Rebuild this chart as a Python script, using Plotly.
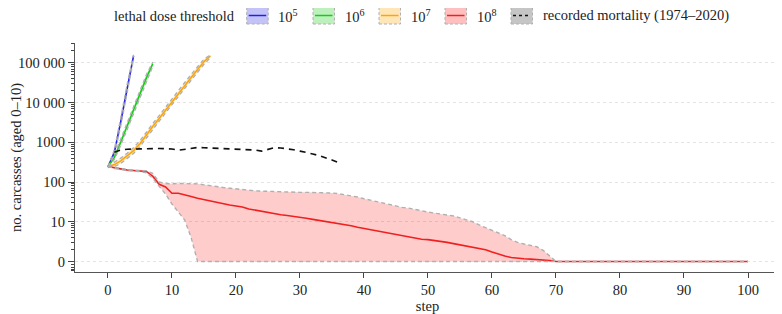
import numpy as np
import plotly.graph_objects as go

# ---------------- data ----------------
blue_steps = [0, 1, 2, 3, 4]
blue = [240, 560, 3300, 23000, 150000]
blue_lo = [235, 480, 2600, 18000, 125000]
blue_hi = [245, 650, 4100, 29000, 160000]

green_steps = [0, 1, 2, 3, 4, 5, 6, 7]
green = [240, 420, 1020, 2600, 6600, 16600, 42000, 95000]
green_lo = [235, 370, 850, 2150, 5500, 14000, 35000, 82000]
green_hi = [245, 470, 1200, 3100, 7900, 19800, 50000, 105000]

orange_steps = list(range(0, 17))
orange = [240, 275, 340, 450, 620, 920, 1550, 2500, 4000, 6500, 10700, 17000,
          27000, 43000, 68000, 107000, 150000]
orange_lo = [232, 245, 295, 385, 525, 780, 1300, 2100, 3400, 5500, 9000, 14500,
             23000, 36500, 58000, 92000, 135000]
orange_hi = [248, 310, 400, 530, 730, 1090, 1830, 2950, 4700, 7700, 12600, 20000,
             32000, 51000, 80000, 124000, 160000]

red_steps = list(range(0, 101))
red = [245, 225, 214, 200, 194, 192, 185, 140, 88, 75, 52, 52, 48, 43, 39, 36, 33, 30,
       28, 26.5, 25, 23.5, 21, 19.5, 18, 17, 16, 15, 14.3, 13.7, 13, 12.2, 11.5, 10.8,
       10.2, 9.8, 9.6, 9.4, 9.0, 8.6, 8.3, 8.0, 7.8, 7.5, 7.2, 6.9, 6.6, 6.2, 5.9, 5.6,
       5.5, 5.3, 5.1, 4.8, 4.5, 4.2, 3.9, 3.6, 3.3, 2.95, 2.4, 1.8, 1.4, 1.0, 0.8, 0.7,
       0.6, 0.5, 0.4, 0.25, 0] + [0] * 30
red_hi = [245, 230, 220, 207, 200, 197, 192, 165, 100, 92, 90, 92, 92, 91, 90, 85, 80,
          76, 73, 70, 67, 64, 62, 60, 59, 58, 57, 57, 56, 56, 55, 55, 55, 54, 54, 53, 51,
          48, 46, 42, 38, 35, 32, 29, 27, 25, 23, 22, 20.7, 19, 17.5, 16.5, 15.5, 15, 14,
          12.5, 11, 10, 9.2, 8.5, 7.8, 7.2, 6.5, 5.5, 4.8, 4.4, 4.0, 3.7, 2.8, 1.5,
          0] + [0] * 30
red_lo = [245, 220, 208, 193, 188, 184, 170, 125, 78, 50, 28, 17, 11, 6, 0] + [0] * 86

mort_steps = list(range(1, 37))
mortality = [560, 640, 670, 680, 690, 700, 710, 700, 690, 680, 630, 660, 700, 740,
             730, 720, 710, 700, 690, 680, 670, 660, 640, 600, 660, 730, 720, 690,
             650, 600, 560, 510, 460, 410, 360, 310]

y_tick_vals = [0, 10, 100, 1000, 10000, 100000]
y_tick_text = ["0", "10", "100", "1000", "10 000", "100 000"]
x_tick_vals = [0, 10, 20, 30, 40, 50, 60, 70, 80, 90, 100]


# symmetric-log style transform: linear below 10, log10 above
def T(v):
    v = np.asarray(v, dtype=float)
    return np.where(v < 10, v / 10.0, np.log10(np.maximum(v, 10)))


FONT = "Liberation Serif, Times New Roman, serif"
FS = 14.5
EDGE = dict(color="#b0b0b0", width=1.4, dash="4px,3px")

fig = go.Figure()

series = [
    (blue_steps, blue, blue_lo, blue_hi, "#2020ee", "rgba(40,40,230,0.22)"),
    (green_steps, green, green_lo, green_hi, "#10d010", "rgba(20,200,20,0.22)"),
    (orange_steps, orange, orange_lo, orange_hi, "#ffa500", "rgba(255,165,0,0.22)"),
    (red_steps, red, red_lo, red_hi, "#f02020", "rgba(255,0,0,0.2)"),
]

for xs, ys, lo, hi, col, fcol in series:
    fig.add_trace(go.Scatter(x=xs, y=T(lo), mode="lines", line=dict(width=0),
                             showlegend=False, hoverinfo="skip"))
    fig.add_trace(go.Scatter(x=xs, y=T(hi), mode="lines", line=dict(width=0),
                             fill="tonexty", fillcolor=fcol, showlegend=False,
                             hoverinfo="skip"))

for xs, ys, lo, hi, col, fcol in series:
    fig.add_trace(go.Scatter(x=xs, y=T(ys), mode="lines", line=dict(color=col, width=1.6),
                             showlegend=False))
    fig.add_trace(go.Scatter(x=xs, y=T(lo), mode="lines", line=EDGE, showlegend=False,
                             hoverinfo="skip"))
    fig.add_trace(go.Scatter(x=xs, y=T(hi), mode="lines", line=EDGE, showlegend=False,
                             hoverinfo="skip"))

fig.add_trace(go.Scatter(x=mort_steps, y=T(mortality), mode="lines",
                         line=dict(color="#111111", width=1.6, dash="6px,5px"),
                         showlegend=False))

# ---------------- layout ----------------
# page has an 8px body margin; figure sized so that it fits the 782x314 window
OFF = 8
W, H = 782 - OFF, 314 - OFF
PL, PR, PT, PB = 75, 780, 43, 272  # plot area in page pixels
L, T_, R, B = PL - OFF, PT - OFF, W - (PR - OFF), H - (PB - OFF)


def px(x):
    return (x - PL) / (PR - PL)


def py(y):
    return (PB - y) / (PB - PT)


minor_vals = []
for k in range(2, 10):
    minor_vals.append(np.log10(k))
for d in range(1, 6):
    for k in range(2, 10):
        v = d + np.log10(k)
        if v < 5.5:
            minor_vals.append(v)
minor_vals += [-0.08, -0.14, -0.19, -0.23]

fig.update_layout(
    width=W, height=H,
    margin=dict(l=L, r=R, t=T_, b=B, autoexpand=False),
    paper_bgcolor="white", plot_bgcolor="white",
    font=dict(family=FONT, size=FS, color="#222"),
    showlegend=False,
    xaxis=dict(range=[-5.15, 105], tickvals=x_tick_vals, ticks="outside", ticklen=5,
               tickcolor="#444", showline=True, linecolor="#555", linewidth=1,
               showgrid=False, zeroline=False,
               title=dict(text="step", standoff=0, font=dict(family=FONT, size=FS)),
               tickfont=dict(family=FONT, size=FS)),
    yaxis=dict(range=[-0.265, 5.5], tickvals=list(T(y_tick_vals)), ticktext=y_tick_text,
               ticks="outside", ticklen=6, tickcolor="#444", showline=True,
               linecolor="#555", linewidth=1, showgrid=True, gridcolor="#e4e4e4",
               griddash="dot", gridwidth=1, zeroline=False,
               title=dict(text="no. carcasses (aged 0–10)", standoff=4,
                          font=dict(family=FONT, size=FS)),
               minor=dict(tickvals=minor_vals, ticks="outside", ticklen=3,
                          tickcolor="#444", showgrid=False),
               tickfont=dict(family=FONT, size=FS)),
)

# ---------------- manual legend ----------------
leg_y0, leg_y1 = 7, 24
leg_mid = (leg_y0 + leg_y1) / 2
fig.add_annotation(x=px(237), y=py(leg_mid), xref="paper", yref="paper",
                   text="lethal dose threshold", showarrow=False, xanchor="right",
                   yanchor="middle", font=dict(family=FONT, size=FS))

legend_items = [
    (246.7, "rgba(40,40,230,0.28)", "#2020ee", "solid", "10<sup>5</sup>"),
    (313, "rgba(20,200,20,0.28)", "#10d010", "solid", "10<sup>6</sup>"),
    (379, "rgba(255,165,0,0.28)", "#ffa500", "solid", "10<sup>7</sup>"),
    (445, "rgba(255,0,0,0.25)", "#f02020", "solid", "10<sup>8</sup>"),
    (511, "rgba(150,150,150,0.55)", "#111111", "3px,3px", "recorded mortality (1974–2020)"),
]
bw = 21.5
for x0, fcol, lcol, ldash, label in legend_items:
    fig.add_shape(type="rect", xref="paper", yref="paper",
                  x0=px(x0), x1=px(x0 + bw), y0=py(leg_y1), y1=py(leg_y0),
                  fillcolor=fcol, line=dict(color="#b0b0b0", width=1, dash="3px,2px"))
    fig.add_shape(type="line", xref="paper", yref="paper",
                  x0=px(x0 + 2), x1=px(x0 + bw - 2), y0=py(leg_mid), y1=py(leg_mid),
                  line=dict(color=lcol, width=1.5, dash=ldash))
    fig.add_annotation(x=px(x0 + bw + 8), y=py(leg_mid), xref="paper", yref="paper",
                       text=label, showarrow=False, xanchor="left", yanchor="middle",
                       font=dict(family=FONT, size=FS))

fig.write_html("out.html")
